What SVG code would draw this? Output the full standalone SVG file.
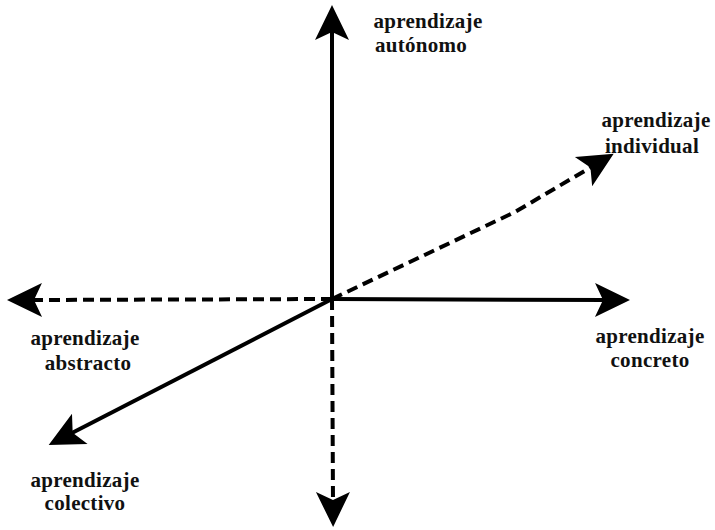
<svg xmlns="http://www.w3.org/2000/svg" width="715" height="530" viewBox="0 0 715 530">
  <style>
    .axis { fill: none; stroke: #000; stroke-width: 4; }
    .dash { stroke-dasharray: 11 6; }
    .lbl { font-family: "Liberation Serif", "Times New Roman", serif; font-weight: bold; font-size: 21px; letter-spacing: 0.3px; fill: #111; text-anchor: middle; }
  </style>
  <defs>
    <marker id="head" markerUnits="userSpaceOnUse" viewBox="-36 -18 38 36" refX="-24" refY="0" markerWidth="38" markerHeight="36" orient="auto">
      <path d="M0,0 L-35,-17 L-27,0 L-35,17 Z" fill="#000"/>
    </marker>
  </defs>

  <!-- axes -->
  <g id="connectors">
    <line class="axis" x1="332" y1="299" x2="332" y2="29" marker-end="url(#head)"/>
    <line class="axis" x1="332" y1="299" x2="606" y2="300" marker-end="url(#head)"/>
    <line class="axis dash" x1="332" y1="299" x2="31" y2="300" marker-end="url(#head)"/>
    <line class="axis dash" x1="332" y1="299" x2="333" y2="503" marker-end="url(#head)"/>
    <polyline class="axis dash" points="332,299 515,212 593,166" marker-end="url(#head)"/>
    <line class="axis" x1="332" y1="299" x2="70" y2="434" marker-end="url(#head)"/>
  </g>

  <g id="autonomo">
    <text class="lbl" x="428" y="28">aprendizaje</text>
    <text class="lbl" x="421" y="52">autónomo</text>
  </g>
  <g id="individual">
    <text class="lbl" x="656" y="127">aprendizaje</text>
    <text class="lbl" x="652" y="153">individual</text>
  </g>
  <g id="abstracto">
    <text class="lbl" x="85" y="345">aprendizaje</text>
    <text class="lbl" x="88" y="370">abstracto</text>
  </g>
  <g id="concreto">
    <text class="lbl" x="650" y="343">aprendizaje</text>
    <text class="lbl" x="650" y="367">concreto</text>
  </g>
  <g id="colectivo">
    <text class="lbl" x="85" y="487">aprendizaje</text>
    <text class="lbl" x="85" y="510">colectivo</text>
  </g>
</svg>
